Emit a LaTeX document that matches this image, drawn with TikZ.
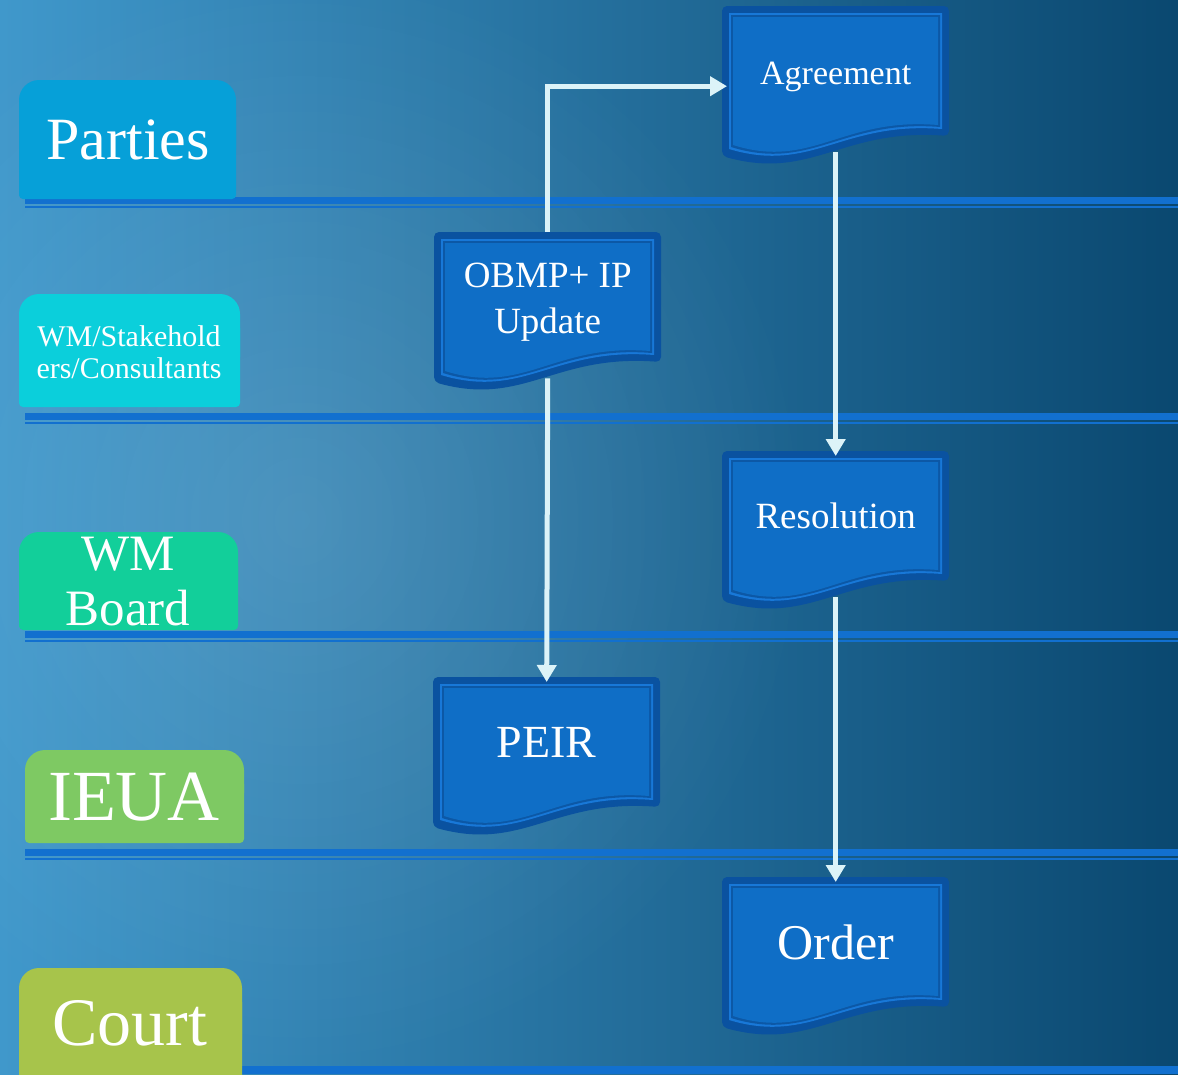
\documentclass[tikz,border=0pt]{standalone}
\usepackage{fontspec}
\setmainfont{Liberation Serif}
\usetikzlibrary{arrows.meta,fadings}
\pgfdeclarelayer{bg}
\pgfsetlayers{bg,main}
\definecolor{bgL}{HTML}{4098CB}
\definecolor{bgM}{HTML}{3183B3}
\definecolor{bgR}{HTML}{0A4870}
\definecolor{partiesc}{HTML}{06A0D8}
\definecolor{stakec}{HTML}{0BCFDB}
\definecolor{boardc}{HTML}{12CF9A}
\definecolor{ieuac}{HTML}{7EC963}
\definecolor{courtc}{HTML}{A7C44B}
\definecolor{docdark}{HTML}{0A52A0}
\definecolor{doclight}{HTML}{1878D8}
\definecolor{docmid}{HTML}{0C58A6}
\definecolor{docfill}{HTML}{0F6EC6}
\definecolor{lanec}{HTML}{1270CF}
\definecolor{arrowc}{HTML}{DCF3F8}
\tikzfading[name=radfade, inner color=transparent!0, outer color=transparent!100]
\newcommand\docpath[1]{(#1,#1) -- (227-#1,#1) -- (227-#1,130-#1) .. controls (120,122-#1) and (90,175-#1) .. (#1,150-#1) -- cycle}
\newcommand\docshape[1]{%
  \begin{scope}[shift={(#1.north west)}]
    \fill[docdark,rounded corners=5pt] \docpath{0};
    \fill[doclight] \docpath{7};
    \fill[docmid] \docpath{9};
    \fill[docfill] \docpath{11};
  \end{scope}}
\newcommand\lblbox[5]{% x1 y1 x2 y2 color
  \fill[#5,rounded corners=20pt] (#1,#2) rectangle (#3,#4-30);
  \fill[#5,rounded corners=4pt] (#1,#2+30) rectangle (#3,#4);}
\newcommand\lane[1]{%
  \fill[lanec] (25,#1) rectangle (1178,#1+7);
  \fill[lanec] (25,#1+8.5) rectangle (1178,#1+10.5);}
\begin{document}
\begin{tikzpicture}[x=1pt,y=-1pt,
  docnode/.style={minimum width=227pt, minimum height=130pt, inner sep=0pt,
    anchor=north west, text=white, align=center},
  lbl/.style={text=white, align=center, inner sep=0pt},
  conn/.style={draw=arrowc, line width=5pt, line join=miter,
    -{Triangle[width=19pt,length=17pt]}, shorten >=-5pt}]
\useasboundingbox (0,0) rectangle (1178,1074);

% document nodes
\node[docnode, font=\fontsize{34}{40}\selectfont] (agr) at (722,6) {\rule{0pt}{34pt}Agreement};
\node[docnode, font=\fontsize{37}{46}\selectfont] (obmp) at (434,232) {\rule{0pt}{35pt}OBMP+ IP\\Update};
\node[docnode, font=\fontsize{37}{44}\selectfont] (res) at (722,451) {Resolution};
\node[docnode, font=\fontsize{46}{52}\selectfont] (peir) at (433,677) {PEIR};
\node[docnode, font=\fontsize{50}{56}\selectfont] (order) at (722,877) {Order};

% lane labels
\node[lbl, font=\fontsize{60}{64}\selectfont] (parties) at (128,140) {Parties};
\node[lbl, font=\fontsize{30}{32}\selectfont] (stake) at (129,352) {WM/Stakehold\\ers/Consultants};
\node[lbl, font=\fontsize{51}{55}\selectfont] (board) at (128,582) {WM\\Board};
\node[lbl, font=\fontsize{72}{76}\selectfont] (ieua) at (134,797) {IEUA};
\node[lbl, font=\fontsize{68}{72}\selectfont] (court) at (130,1023) {Court};

\begin{pgfonlayer}{bg}
  \shade[left color=bgL, middle color=bgM, right color=bgR] (0,0) rectangle (1178,1074);
  \fill[white, opacity=0.12, path fading=radfade] (300,520) ellipse [x radius=520, y radius=560];
  \lane{197}
  \lane{413}
  \lane{631}
  \lane{849}
  \fill[lanec] (25,1066) rectangle (1178,1074);
  \lblbox{19}{80}{236}{199}{partiesc}
  \lblbox{19}{294}{240}{407}{stakec}
  \lblbox{19}{532}{238}{630}{boardc}
  \lblbox{25}{750}{244}{843}{ieuac}
  \lblbox{19}{968}{242}{1090}{courtc}
  \docshape{agr}
  \docshape{obmp}
  \docshape{res}
  \docshape{peir}
  \docshape{order}
\end{pgfonlayer}

% connectors
\draw[conn] (obmp.north) |- ([yshift=-15pt]agr.west);
\draw[conn] ([yshift=-16pt]agr.south) -- (res.north);
\draw[conn] ([yshift=-16pt]obmp.south) -- (peir.north);
\draw[conn] ([yshift=-16pt]res.south) -- (order.north);
\end{tikzpicture}
\end{document}
